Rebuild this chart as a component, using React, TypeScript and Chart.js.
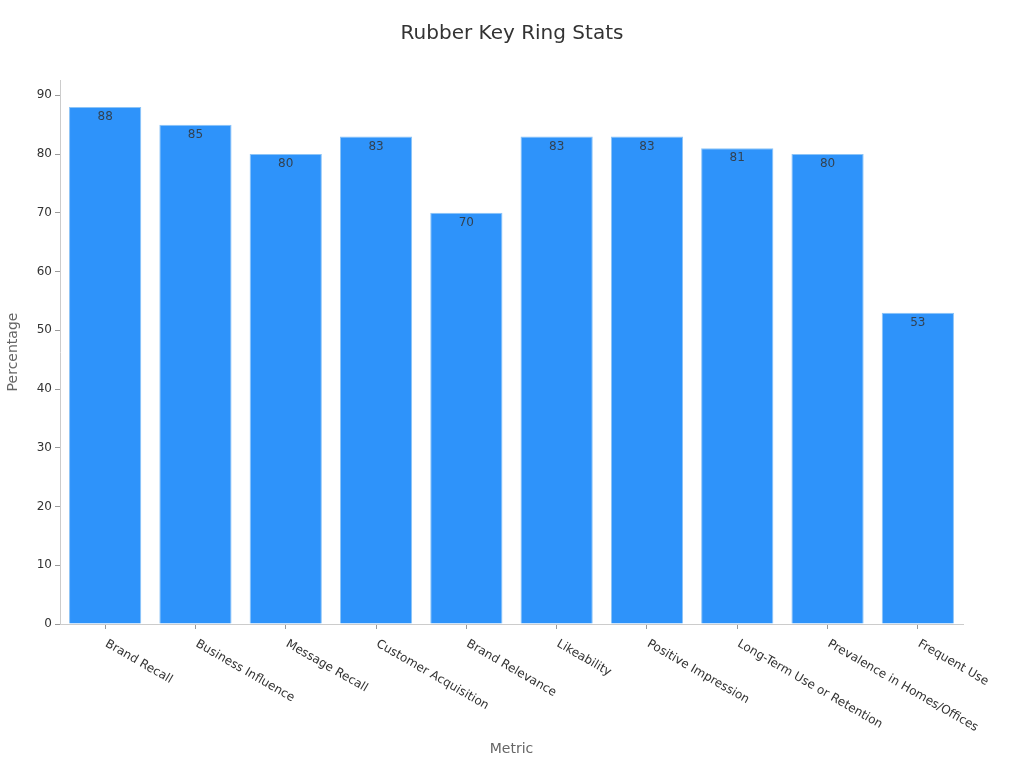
import { useEffect, useRef } from "react"
import { Chart, registerables } from "chart.js"

Chart.register(...registerables)

const metrics = [
  "Brand Recall",
  "Business Influence",
  "Message Recall",
  "Customer Acquisition",
  "Brand Relevance",
  "Likeability",
  "Positive Impression",
  "Long-Term Use or Retention",
  "Prevalence in Homes/Offices",
  "Frequent Use",
]

const percentages = [88, 85, 80, 83, 70, 83, 83, 81, 80, 53]

const yTicks = [0, 10, 20, 30, 40, 50, 60, 70, 80, 90]

const FONT = "'DejaVu Sans', sans-serif"

// draws the slanted category labels (text starts at the tick, runs down-right)
const slantedLabels = {
  id: "slantedLabels",
  afterDraw(chart: any) {
    const { ctx } = chart
    const x = chart.scales.x
    ctx.save()
    ctx.font = `12px ${FONT}`
    ctx.fillStyle = "#333"
    ctx.textAlign = "left"
    ctx.textBaseline = "middle"
    metrics.forEach((label, i) => {
      const px = x.getPixelForTick(i)
      ctx.save()
      ctx.translate(px + 1, x.top + 19)
      ctx.rotate((30 * Math.PI) / 180)
      ctx.fillText(label, 0, 0)
      ctx.restore()
    })
    ctx.restore()
  },
}

// value labels just inside the top of each bar
const barValues = {
  id: "barValues",
  afterDatasetsDraw(chart: any) {
    const { ctx } = chart
    const meta = chart.getDatasetMeta(0)
    ctx.save()
    ctx.font = `12px ${FONT}`
    ctx.fillStyle = "rgba(51, 51, 51, 0.85)"
    ctx.textAlign = "center"
    ctx.textBaseline = "middle"
    meta.data.forEach((bar: any, i: number) => {
      ctx.fillText(String(percentages[i]), bar.x, bar.y + 10)
    })
    ctx.restore()
  },
}

export default function App() {
  const chartRef = useRef<HTMLCanvasElement>(null)
  const chartInstance = useRef<Chart | null>(null)

  useEffect(() => {
    document.body.style.margin = "0"
    if (!chartRef.current) return
    const ctx = chartRef.current.getContext("2d")
    if (!ctx) return

    if (chartInstance.current) {
      chartInstance.current.destroy()
    }

    chartInstance.current = new Chart(ctx, {
      type: "bar",
      data: {
        labels: metrics,
        datasets: [
          {
            label: "Percentage",
            data: percentages,
            backgroundColor: "#2e93fa",
            borderColor: "#8cc4f7",
            borderWidth: 1,
            barPercentage: 0.8,
            categoryPercentage: 1,
          },
        ],
      },
      options: {
        responsive: true,
        maintainAspectRatio: false,
        animation: false,
        layout: {
          padding: 0,
        },
        plugins: {
          legend: { display: false },
          tooltip: { enabled: false },
          title: {
            display: true,
            text: "Rubber Key Ring Stats",
            color: "#333",
            font: { family: FONT, size: 20, weight: "normal" },
            padding: { top: 22, bottom: 34 },
          },
        },
        scales: {
          x: {
            offset: true,
            grid: {
              display: true,
              offset: false,
              drawOnChartArea: false,
              drawTicks: true,
              tickLength: 5,
              color: "#999",
            },
            border: { color: "#ccc" },
            ticks: { display: false },
            title: {
              display: true,
              text: "Metric",
              color: "#666",
              font: { family: FONT, size: 14 },
              padding: { top: 0, bottom: 10 },
            },
            afterFit: (scale: any) => {
              scale.height = 144
            },
          },
          y: {
            min: 0,
            max: 92.6,
            grid: {
              display: true,
              drawOnChartArea: false,
              drawTicks: true,
              tickLength: 5,
              color: "#999",
            },
            border: { color: "#ccc" },
            afterBuildTicks: (scale: any) => {
              scale.ticks = yTicks.map((v) => ({ value: v }))
            },
            ticks: {
              color: "#333",
              font: { family: FONT, size: 12 },
              padding: 3,
            },
            title: {
              display: true,
              text: "Percentage",
              color: "#666",
              font: { family: FONT, size: 14 },
              padding: { top: 5, bottom: 0 },
            },
            afterFit: (scale: any) => {
              scale.width = 60
            },
          },
          // empty right-hand spacer so the plot ends where the reference does
          spacer: {
            type: "linear",
            position: "right",
            grid: { display: false },
            border: { display: false },
            ticks: { display: false },
            afterFit: (scale: any) => {
              scale.width = 61
            },
          },
        },
      },
      plugins: [slantedLabels, barValues],
    })

    return () => {
      if (chartInstance.current) {
        chartInstance.current.destroy()
        chartInstance.current = null
      }
    }
  }, [])

  return (
    <div style={{ width: 1024, height: 768, position: "relative", background: "#fff" }}>
      <canvas ref={chartRef} />
    </div>
  )
}
